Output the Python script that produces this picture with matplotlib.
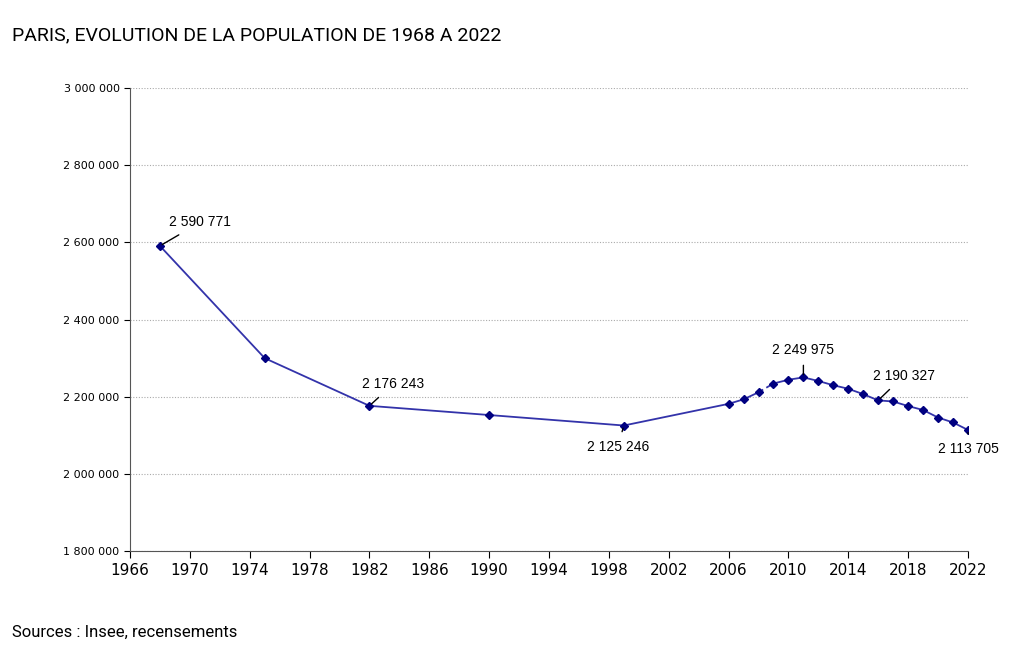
import matplotlib
matplotlib.use("Agg")
import matplotlib.pyplot as plt

years = [1968, 1975, 1982, 1990, 1999, 2006, 2007, 2008, 2009, 2010, 2011, 2012, 2013,
         2014, 2015, 2016, 2017, 2018, 2019, 2020, 2021, 2022]
pop = [2590771, 2299830, 2176243, 2152423, 2125246, 2181371, 2193030, 2211297, 2234105,
       2243833, 2249975, 2240621, 2229621, 2220445, 2206488, 2190327, 2187526, 2175601,
       2165423, 2145906, 2133111, 2113705]
labels = {1968: "2 590 771", 1982: "2 176 243", 1999: "2 125 246", 2011: "2 249 975",
          2016: "2 190 327", 2022: "2 113 705"}
yticks = list(range(1800000, 3000001, 200000))
xticks = list(range(1966, 2023, 4))

fig = plt.figure(figsize=(10.25, 6.53), dpi=100)
ax = fig.add_axes([130/1025, 1-551/653, 838/1025, 463/653])
lc = "#3333aa"
i8 = years.index(2008)
ax.plot(years[:i8+1], pop[:i8+1], color=lc, lw=1.3)
ax.plot(years[i8:i8+2], pop[i8:i8+2], color=lc, lw=1.3, ls=(0, (3, 2)))
ax.plot(years[i8+1:], pop[i8+1:], color=lc, lw=1.3)
ax.plot(years, pop, ls="none", marker="D", ms=4.5, color="#000080")

# label text centres (year, value)
pos = {1968: (1970.7, 2652000), 1982: (1983.6, 2233000), 1999: (1998.6, 2070000),
       2011: (2011.0, 2321000), 2016: (2017.7, 2254000), 2022: (2022.0, 2064000)}
for y, t in labels.items():
    v = pop[years.index(y)]
    ax.annotate(t, xy=(y, v), xytext=pos[y], fontsize=10, ha="center", va="center",
                family="Liberation Sans", annotation_clip=False,
                arrowprops=dict(arrowstyle="-", color="black", lw=1, shrinkA=4, shrinkB=2))

ax.set_xlim(1966, 2022)
ax.set_ylim(1800000, 3000000)
ax.set_xticks(xticks)
ax.set_yticks(yticks)
ax.set_yticklabels([f"{v:,}".replace(",", " ") for v in yticks], fontsize=8)
ax.tick_params(axis="x", labelsize=11, direction="out", length=5)
ax.tick_params(axis="y", direction="out", length=4)
ax.grid(axis="y", color="#aaaaaa", ls=(0, (1, 1.5)), lw=0.8)
for s in ["top", "right"]:
    ax.spines[s].set_visible(False)
ax.spines["left"].set_color("#555555")
ax.spines["bottom"].set_color("#555555")

fig.text(12/1025, 1-35/653, "PARIS, EVOLUTION DE LA POPULATION DE 1968 A 2022", fontsize=14,
         family="Roboto", va="center")
fig.text(12/1025, 1-632/653, "Sources : Insee, recensements", fontsize=12, family="Roboto", va="center")
fig.savefig("out.png", dpi=100)
